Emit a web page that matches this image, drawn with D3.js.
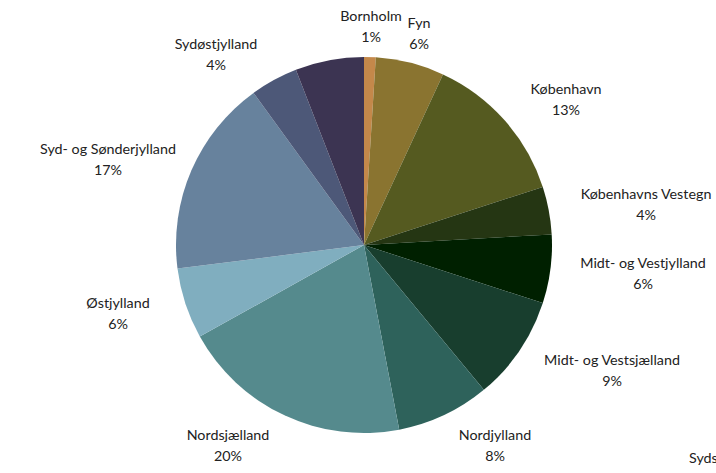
<!DOCTYPE html>
<html>
<head>
<meta charset="utf-8">
<script src="https://cdn.jsdelivr.net/npm/d3@7"></script>
<style>
  html, body { margin: 0; padding: 0; background: #fff; overflow: hidden; }
  svg { display: block; }
  text { font-family: Lato, "Open Sans", sans-serif; font-size: 14.3px; fill: #222; }
</style>
</head>
<body>
<script>
// ---- data ----
const regions = ["Bornholm", "Fyn", "København", "Københavns Vestegn", "Midt- og Vestjylland",
  "Midt- og Vestsjælland", "Nordjylland", "Nordsjælland", "Østjylland",
  "Syd- og Sønderjylland", "Sydøstjylland", "Sydsjælland"];
const shares = [1.0, 5.9, 13.1, 4.1, 5.9, 9.0, 8.0, 19.9, 6.1, 17.0, 4.1, 5.9];
const pctLabels = ["1%", "6%", "13%", "4%", "6%", "9%", "8%", "20%", "6%", "17%", "4%", "6%"];
const colors = ["#c4884a", "#8a7430", "#555a20", "#253613", "#002000", "#183e2e",
  "#2e625b", "#558a8d", "#80aebf", "#67829d", "#4d5878", "#3c3452"];

// ---- layout ----
const W = 716, H = 473;
const cx = 364, cy = 245, R = 188;
// label anchor (centre of name line) relative to pie centre
const labelOffsets = [[7, -229], [55, -222], [202, -156], [282, -51], [279, 18],
  [248, 115], [131, 190], [-136, 190], [-246, 58], [-256, -96], [-148, -201], [325, 213]];

const svg = d3.select("body").append("svg").attr("width", W).attr("height", H);
const g = svg.append("g").attr("transform", `translate(${cx},${cy})`);

const pie = d3.pie().sort(null).value(d => d)(shares);
const arc = d3.arc().innerRadius(0).outerRadius(R);

g.selectAll("path").data(pie).join("path")
  .attr("d", arc)
  .attr("fill", (d, i) => colors[i]);

const lab = g.selectAll("g.lab").data(pie).join("g").attr("class", "lab")
  .attr("transform", (d, i) => `translate(${labelOffsets[i][0]},${labelOffsets[i][1]})`);
lab.append("text").attr("text-anchor", (d, i) => i === 11 ? "start" : "middle")
  .attr("dy", "0.35em").text((d, i) => regions[i]);
lab.append("text").attr("text-anchor", "middle")
  .attr("x", (d, i) => i === 11 ? 37 : 0)
  .attr("y", 21).attr("dy", "0.35em").text((d, i) => pctLabels[i]);
</script>
</body>
</html>
